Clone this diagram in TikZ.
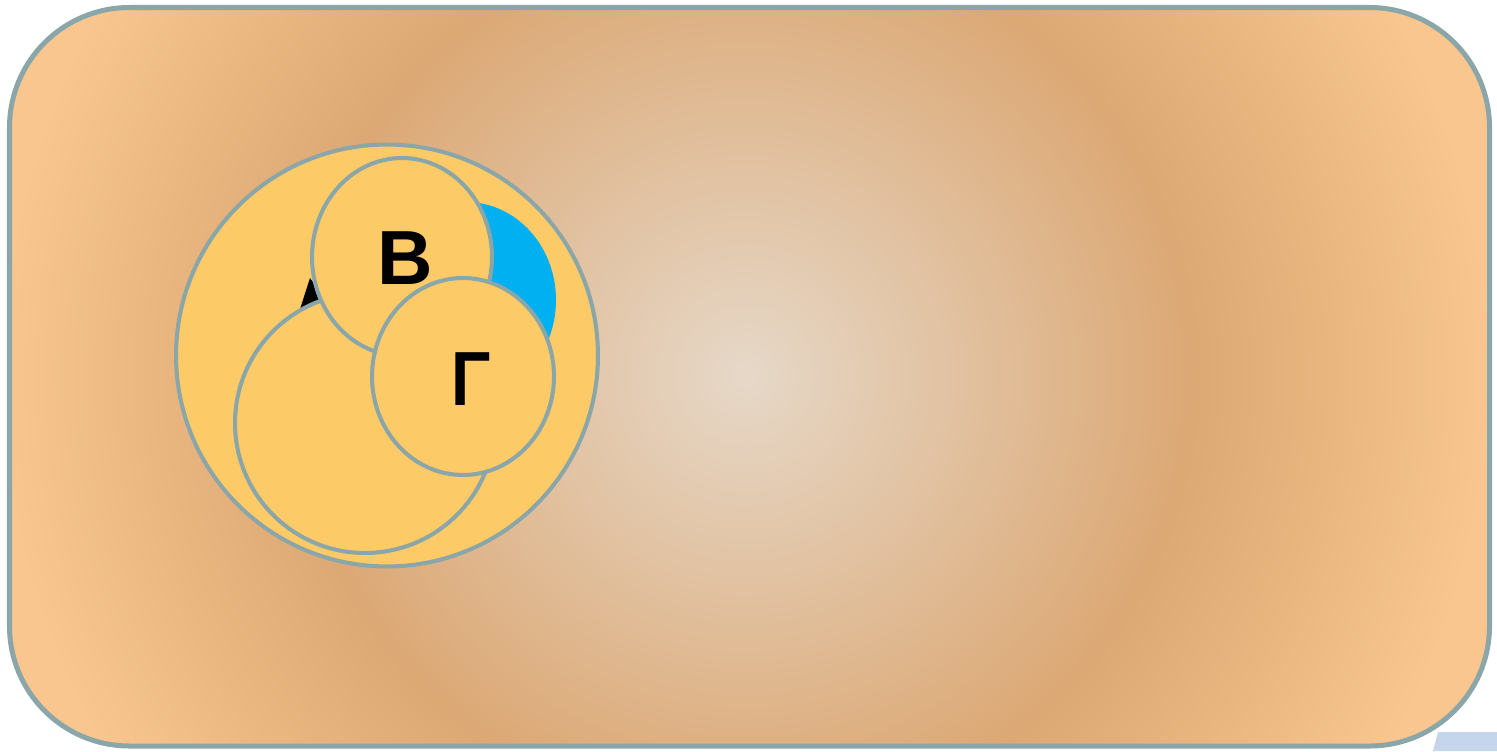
\documentclass[tikz,border=0pt]{standalone}
\usepackage{fontspec}
\usetikzlibrary{shapes.geometric}
\newfontfamily\labfont{Liberation Sans}[BoldFont={Liberation Sans Bold}]
\definecolor{bgA}{HTML}{E6D8C8}
\definecolor{bgB}{HTML}{DCA874}
\definecolor{bgC}{HTML}{F8C68E}
\definecolor{edgec}{HTML}{8AA6A8}
\definecolor{discc}{HTML}{FDCA68}
\definecolor{bluec}{HTML}{00B0F0}
\definecolor{paleblue}{HTML}{C5D5EB}
\pgfdeclareradialshading{bgshade}{\pgfpoint{0bp}{0bp}}{color(0bp)=(bgA); color(12.5bp)=(bgB); color(20.7bp)=(bgC); color(50bp)=(bgC)}
\tikzset{
  disc/.style={fill=discc, draw=edgec, line width=2.3pt},
  lab/.style={inner sep=0pt, anchor=base, font=\labfont\bfseries\fontsize{43.7pt}{50pt}\selectfont},
}
\begin{document}
\begin{tikzpicture}[x=0.02cm,y=-0.02cm]
\useasboundingbox (0,0) rectangle (1497,751);
% pale blue piece at bottom right
\fill[paleblue] (1433,751) -- (1438,732) -- (1497,732) -- (1497,751) -- cycle;
% background panel
\begin{scope}
\clip[rounded corners=2.4cm] (9.5,7.5) rectangle (1489.5,746);
\shade[shading=bgshade] (-155,-525) rectangle (1645,1275);
\end{scope}
\draw[edgec, line width=2.85pt, rounded corners=2.4cm] (9.5,7.5) rectangle (1489.5,746);
% big circle
\node[disc, circle, minimum size=8.44cm, inner sep=0pt] (outer) at (387,355.5) {};
% blue ellipse
\fill[bluec] (466,300) circle [x radius=90, y radius=98];
% black piece
\fill[black] (310,278) -- (296.5,320) -- (340,320) -- cycle;
% lower circle
\node[disc, circle, minimum size=5.2cm, inner sep=0pt] (alpha) at (365,423) {};
% B ellipse
\node[disc, ellipse, minimum width=3.6cm, minimum height=3.96cm, inner sep=0pt] (beta) at (402,257) {};
\node[lab] (betalab) at (405,284) {B};
% Gamma ellipse
\node[disc, ellipse, minimum width=3.64cm, minimum height=3.94cm, inner sep=0pt] (gamma) at (463,376.5) {};
\node[lab, xscale=0.85] (gammalab) at (471,405.5) {Γ};
\end{tikzpicture}
\end{document}
